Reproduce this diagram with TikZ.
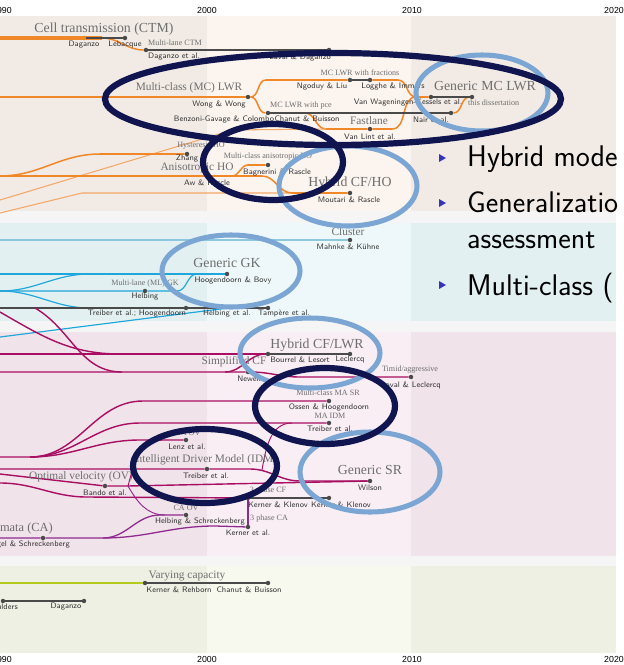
\documentclass[tikz,border=0pt]{standalone}
\usepackage{fontspec}
\newfontfamily\catfont{Liberation Serif}
\newfontfamily\yearfont{Liberation Sans}
\usetikzlibrary{positioning}
\definecolor{beigeD}{HTML}{F2EBE5}
\definecolor{beigeL}{HTML}{FBF4EF}
\definecolor{blueD}{HTML}{E3F0F2}
\definecolor{blueL}{HTML}{EEF8FA}
\definecolor{pinkD}{HTML}{F0E3EA}
\definecolor{pinkL}{HTML}{F8EEF4}
\definecolor{greenD}{HTML}{EFF0E4}
\definecolor{greenL}{HTML}{F8F9EE}
\definecolor{gapgray}{HTML}{F5F5F5}
\definecolor{lwrorange}{HTML}{F0882A}
\definecolor{lwrpale}{HTML}{F3A868}
\definecolor{gkcyan}{HTML}{1FA6DA}
\definecolor{clusterblue}{HTML}{8CC8DF}
\definecolor{cfmagenta}{HTML}{A80F62}
\definecolor{capurple}{HTML}{8E2A8E}
\definecolor{capgreen}{HTML}{B5CB1C}
\definecolor{dotgray}{HTML}{4A4A4A}
\definecolor{whogray}{HTML}{333333}
\definecolor{modelgray}{HTML}{6E6E6E}
\definecolor{ringlight}{HTML}{7BA5D2}
\definecolor{ringnavy}{HTML}{10154F}
\definecolor{bulletblue}{HTML}{3535B5}

\begin{document}
\begin{tikzpicture}[x=0.03cm,y=-0.03cm,
    dot/.style={circle,fill=dotgray,inner sep=0pt,minimum size=3.8pt},
    who/.style={font=\sffamily\fontsize{6.8}{7}\selectfont,text=whogray,inner sep=0pt},
    model/.style={font=\catfont\fontsize{9.7}{11}\selectfont,text=modelgray,inner sep=0pt},
    keymodel/.style={model,font=\catfont\fontsize{11.8}{13}\selectfont},
    variant/.style={font=\catfont\fontsize{6.9}{8}\selectfont,text=modelgray,inner sep=0pt},
    year/.style={font=\yearfont\fontsize{7.5}{8}\selectfont,inner sep=0pt},
    slide/.style={font=\sffamily\fontsize{25.5}{30}\selectfont,inner sep=0pt,anchor=base west},
    lwr/.style={draw=lwrorange,line width=1.3pt},
    lwrthin/.style={draw=lwrpale,line width=0.9pt},
    gk/.style={draw=gkcyan,line width=1pt},
    cluster/.style={draw=clusterblue,line width=1.1pt},
    cf/.style={draw=cfmagenta,line width=1.2pt},
    ca/.style={draw=capurple,line width=1.1pt},
    capline/.style={draw=capgreen,line width=1.3pt},
    pub/.style={draw=dotgray,line width=1.2pt},
    ringL/.style={draw=ringlight,line width=4.3pt},
    ringD/.style={draw=ringnavy,line width=5.3pt}]

  \useasboundingbox (0,0) rectangle (624,665);
  \clip (0,0) rectangle (624,665);

  \fill[gapgray] (0,16) rectangle (616,653);
  \foreach \ya/\yb/\dk/\lt in {16/211/beigeD/beigeL,223/321/blueD/blueL,332/556/pinkD/pinkL,566/653/greenD/greenL} {
    \fill[\dk] (0,\ya) rectangle (207,\yb);
    \fill[\lt] (207,\ya) rectangle (411,\yb);
    \fill[\dk] (411,\ya) rectangle (616,\yb);
  }
  \foreach \yr/\xx in {1990/2,2000/207,2010/412,2020/614} {
    \node[year] (top\yr) at (\xx,10) {\yr};
    \node[year] (bot\yr) at (\xx,659) {\yr};
  }

  \coordinate (ctmL) at (0,38);
  \coordinate (ctmK) at (102,38);
  \node[dot] (daganzo) at (84,38) {};
  \node[dot] (lebacque) at (125,38) {};
  \node[dot] (daganzoEA) at (146,50) {};
  \node[dot] (lavalD) at (329,50) {};
  \draw[lwr,line width=3.4pt] (ctmL) -- (ctmK);
  \draw[lwr] (ctmK) to[out=0,in=180] (daganzoEA);
  \draw[pub] (daganzo) -- (lebacque);
  \draw[pub] (daganzoEA) -- (lavalD);

  \coordinate (mcL) at (0,97);
  \coordinate (fracA) at (266,80);
  \coordinate (fracB) at (398,80);
  \coordinate (mcJ) at (416,97);
  \coordinate (pceB) at (305,113);
  \coordinate (fastA) at (326,129);
  \coordinate (fastB) at (392,129);
  \coordinate (fsL) at (0,200);
  \coordinate (fsK) at (232,130);
  \node[dot] (wong) at (248,97) {};
  \node[dot] (ngoduy) at (350,80) {};
  \node[dot] (logghe) at (370,80) {};
  \node[dot] (vwk) at (431,97) {};
  \node[dot] (thesis) at (472,97) {};
  \node[dot] (benzoni) at (268,113) {};
  \node[dot] (nair) at (451,113) {};
  \node[dot] (vanlint) at (370,129) {};
  \draw[lwr] (mcL) -- (wong);
  \draw[lwr] (wong) to[out=0,in=180] (fracA) -- (ngoduy);
  \draw[lwr] (logghe) -- (fracB) to[out=0,in=180] (mcJ) -- (vwk);
  \draw[lwr] (wong) to[out=0,in=180] (benzoni);
  \draw[lwr] (nair) to[out=0,in=180] (thesis);
  \draw[lwr] (pceB) to[out=0,in=180] (fastA) -- (vanlint) -- (fastB) to[out=0,in=180] (mcJ);
  \draw[lwrthin] (fsL) -- (fsK) -- (fastA);
  \draw[pub] (ngoduy) -- (logghe);
  \draw[pub] (benzoni) -- (nair);
  \draw[pub] (vwk) -- (thesis);

  \coordinate (hoL) at (0,176);
  \coordinate (hoK) at (232,176);
  \coordinate (hoM) at (262,176);
  \coordinate (hysK) at (100,154);
  \coordinate (anisoK) at (248,165);
  \coordinate (moutL) at (0,213);
  \coordinate (moutK) at (82,193);
  \coordinate (moutJ) at (292,193);
  \node[dot] (zhang) at (187,154) {};
  \node[dot] (bagnerini) at (268,165) {};
  \node[dot] (moutari) at (350,193) {};
  \draw[lwrthin] (moutL) -- (moutK) -- (moutJ);
  \draw[lwr] (hoL) -- (hoM) to[out=0,in=180] (moutJ) -- (moutari);
  \draw[lwr] (hoK) to[out=0,in=180] (anisoK) -- (bagnerini);
  \draw[lwr] (hoL) to[out=0,in=180] (hysK) -- (zhang);

  \coordinate (clL) at (0,240);
  \coordinate (topL) at (0,274);
  \coordinate (gkL) at (0,291);
  \coordinate (gkU) at (90,274);
  \coordinate (gkD) at (90,308);
  \coordinate (mlK) at (177,291);
  \coordinate (mlJ) at (197,274);
  \coordinate (treibL) at (0,308);
  \coordinate (helbingEA) at (228,308);
  \coordinate (hetL) at (0,337);
  \node[dot] (mahnke) at (350,240) {};
  \node[dot] (hoogBovy) at (227,274) {};
  \node[dot] (helbing) at (145,291) {};
  \node[dot] (treiberH) at (186,308) {};
  \node[dot] (tampere) at (268,308) {};
  \draw[cluster] (clL) -- (mahnke);
  \draw[gk] (topL) -- (hoogBovy);
  \draw[gk] (gkL) to[out=0,in=180] (gkU);
  \draw[gk] (gkL) -- (helbing) -- (mlK) to[out=0,in=180] (mlJ);
  \draw[gk] (gkL) to[out=0,in=180] (gkD);
  \draw[gk] (hetL) -- (helbingEA);
  \draw[pub] (treibL) -- (treiberH) -- (tampere);

  \coordinate (sfL) at (0,312);
  \coordinate (sfK) at (120,354);
  \coordinate (scL) at (35,308);
  \coordinate (scK) at (122,372);
  \coordinate (lwrL) at (0,354);
  \coordinate (newL) at (0,372);
  \coordinate (newK) at (225,372);
  \coordinate (timidK) at (300,377);
  \node[dot] (bourrel) at (268,354) {};
  \node[dot] (leclercq) at (350,354) {};
  \node[dot] (newell) at (248,372) {};
  \node[dot] (lavalL) at (411,377) {};
  \draw[cf] (sfL) to[out=-30,in=180] (sfK);
  \draw[cf] (scL) to[out=-30,in=180] (scK);
  \draw[cf] (lwrL) -- (bourrel);
  \draw[cf] (newL) -- (newell) to[out=0,in=180] (timidK) -- (lavalL);
  \draw[cf] (newK) to[out=0,in=180] (bourrel);
  \draw[pub] (bourrel) -- (leclercq);

  \coordinate (cfL) at (0,457);
  \coordinate (cfHub) at (30,457);
  \coordinate (srK) at (143,401);
  \coordinate (maidmK) at (140,423);
  \coordinate (maidmJ) at (292,423);
  \coordinate (maovK) at (140,440);
  \coordinate (maovJ) at (162,440);
  \node[dot] (ossen) at (329,401) {};
  \node[dot] (treiberMA) at (329,423) {};
  \node[dot] (lenz) at (186,440) {};
  \draw[cf] (cfL) -- (cfHub) to[out=0,in=180] (srK) -- (ossen);
  \draw[cf] (cfHub) to[out=0,in=180] (maidmK) -- (treiberMA);
  \draw[cf] (cfHub) to[out=0,in=180] (maovK) -- (lenz);

  \coordinate (idmL) at (0,469);
  \coordinate (idmK) at (250,469);
  \coordinate (idmB) at (262,470);
  \coordinate (srJ) at (300,481);
  \coordinate (ovL) at (0,474);
  \coordinate (ovK) at (128,486);
  \coordinate (tpL) at (0,483);
  \coordinate (tpK) at (87,497);
  \node[dot] (treiberIDM) at (207,469) {};
  \node[dot] (wilson) at (370,481) {};
  \node[dot] (bando) at (105,486) {};
  \node[dot] (kernerK) at (248,498) {};
  \node[dot] (kernerK2) at (329,498) {};
  \node[dot] (kernerEA) at (248,527) {};
  \draw[cf] (idmL) -- (treiberIDM) -- (idmK) to[out=0,in=180] (srJ) -- (wilson);
  \draw[cf,line width=0.8pt] (idmB) to[out=80,in=180] (maidmJ);
  \draw[cf] (ovL) -- (bando) -- (ovK) -- (wilson);
  \draw[cf,line width=0.8pt] (ovK) to[out=75,in=180] (maovJ);
  \draw[cf] (tpL) to[out=0,in=180] (tpK) -- (kernerK);
  \draw[ca] (kernerK) -- (kernerEA);
  \draw[pub] (kernerK) -- (kernerK2);

  \coordinate (caL) at (0,538);
  \coordinate (caK) at (103,538);
  \coordinate (caovK) at (160,515);
  \coordinate (caovJ) at (165,515);
  \coordinate (tpcaK) at (215,526);
  \node[dot] (nagel) at (43,538) {};
  \node[dot] (helbingS) at (186,515) {};
  \draw[ca] (caL) -- (nagel) -- (caK) to[out=0,in=180] (caovK) -- (helbingS);
  \draw[ca] (caK) to[out=0,in=180] (tpcaK) -- (kernerEA);
  \draw[ca,line width=0.8pt] (ovK) to[out=-60,in=180] (caovJ);

  \coordinate (vcL) at (0,583);
  \node[dot] (kernerR) at (145,583) {};
  \node[dot] (chanutB) at (268,583) {};
  \node[dot] (smulders) at (3,601) {};
  \node[dot] (daganzoC) at (84,601) {};
  \draw[capline] (vcL) -- (kernerR);
  \draw[pub] (kernerR) -- (chanutB);
  \draw[pub] (smulders) -- (daganzoC);

  \node[keymodel] (ctmM) at (104,29) {Cell transmission (CTM)};
  \node[who] (daganzoN) at (84,45) {Daganzo};
  \node[who] (lebacqueN) at (125,45) {Lebacque};
  \node[variant,anchor=west] (mlctmV) at (148,43) {Multi-lane CTM};
  \node[who,anchor=west] (daganzoEAN) at (148,57) {Daganzo et al.};
  \node[who] (lavalDN) at (300,57) {Laval \& Daganzo};
  \node[model] (mclwrM) at (189,88) {Multi-class (MC) LWR};
  \node[who] (wongN) at (219,104) {Wong \& Wong};
  \node[variant] (fracV) at (360,73) {MC LWR with fractions};
  \node[who] (ngoduyN) at (322,86) {Ngoduy \& Liu};
  \node[who] (loggheN) at (393,86) {Logghe \& Immers};
  \node[who] (vwkN) at (408,103) {Van Wageningen-Kessels et al.};
  \node[variant,anchor=west] (thesisV) at (468,103) {this dissertation};
  \node[keymodel] (gmcM) at (485,86) {Generic MC LWR};
  \node[variant] (pceV) at (301,106) {MC LWR with pce};
  \node[who] (benzoniN) at (224,119) {Benzoni-Gavage \& Colombo};
  \node[who] (chanutN) at (307,119) {Chanut \& Buisson};
  \node[who] (nairN) at (431,120) {Nair et al.};
  \node[model] (fastM) at (369,121) {Fastlane};
  \node[who] (vanlintN) at (370,137) {Van Lint et al.};
  \node[variant] (hysV) at (201,146) {Hysteresis HO};
  \node[who] (zhangN) at (187,159) {Zhang};
  \node[model] (anisoM) at (197,168) {Anisotropic HO};
  \node[variant] (mcahoV) at (268,157) {Multi-class anisotropic HO};
  \node[who] (bagneriniN) at (277,172) {Bagnerini \& Rascle};
  \node[who] (awN) at (207,183) {Aw \& Rascle};
  \node[keymodel] (hcfhoM) at (350,183) {Hybrid CF/HO};
  \node[who] (moutariN) at (349,200) {Moutari \& Rascle};
  \node[model] (clusterM) at (348,232) {Cluster};
  \node[who] (mahnkeN) at (348,247) {Mahnke \& Kühne};
  \node[keymodel] (ggkM) at (227,263) {Generic GK};
  \node[who] (hoogBovyN) at (233,280) {Hoogendoorn \& Bovy};
  \node[variant] (mlgkV) at (145,284) {Multi-lane (ML) GK};
  \node[who] (helbingN) at (145,297) {Helbing};
  \node[who] (treiberHN) at (137,314) {Treiber et al.; Hoogendoorn};
  \node[who] (helbingEAN) at (227,314) {Helbing et al.};
  \node[who] (tampereN) at (284,314) {Tampère et al.};
  \node[keymodel] (hcflwrM) at (317,345) {Hybrid CF/LWR};
  \node[who] (bourrelN) at (300,360) {Bourrel \& Lesort};
  \node[who] (leclercqN) at (350,360) {Leclercq};
  \node[model] (simpM) at (234,362) {Simplified CF};
  \node[who] (newellN) at (249,379) {Newell};
  \node[variant] (timidV) at (410,370) {Timid/aggressive};
  \node[who] (lavalLN) at (411,385) {Laval \& Leclercq};
  \node[variant] (masrV) at (328,393) {Multi-class MA SR};
  \node[who] (ossenN) at (329,407) {Ossen \& Hoogendoorn};
  \node[variant] (maidmV) at (330,416) {MA IDM};
  \node[who] (treiberMAN) at (330,429) {Treiber et al.};
  \node[variant] (maovV) at (187,433) {MA OV};
  \node[who] (lenzN) at (187,447) {Lenz et al.};
  \node[model] (idmM) at (205,460) {Intelligent Driver Model (IDM)};
  \node[who] (treiberIDMN) at (206,476) {Treiber et al.};
  \node[model] (ovM) at (81,477) {Optimal velocity (OV)};
  \node[who] (bandoN) at (105,493) {Bando et al.};
  \node[keymodel] (gsrM) at (370,470) {Generic SR};
  \node[who] (wilsonN) at (370,488) {Wilson};
  \node[variant] (tpcfV) at (268,491) {3 phase CF};
  \node[who] (kernerKN) at (278,505) {Kerner \& Klenov};
  \node[who] (kernerK2N) at (341,505) {Kerner \& Klenov};
  \node[variant,anchor=west] (tpcaV) at (250,519) {3 phase CA};
  \node[who] (kernerEAN) at (248,533) {Kerner et al.};
  \node[variant] (caovV) at (186,508) {CA OV};
  \node[who] (helbingSN) at (200,521) {Helbing \& Schreckenberg};
  \node[model,anchor=east,font=\catfont\fontsize{10.6}{12}\selectfont] (caM) at (53,529) {Cellular automata (CA)};
  \node[who,anchor=east] (nagelN) at (70,544) {Nagel \& Schreckenberg};
  \node[model] (vcM) at (187,576) {Varying capacity};
  \node[who] (kernerRN) at (179,590) {Kerner \& Rehborn};
  \node[who] (chanutBN) at (249,590) {Chanut \& Buisson};
  \node[who,anchor=east] (smuldersN) at (18,607) {Smulders};
  \node[who] (daganzoCN) at (66,607) {Daganzo};

  \draw[ringL] (482,93) ellipse [x radius=66,y radius=38];
  \draw[ringL] (348,186) ellipse [x radius=69,y radius=40];
  \draw[ringL] (231,271) ellipse [x radius=69,y radius=36];
  \draw[ringL] (310,353) ellipse [x radius=70,y radius=35];
  \draw[ringL] (370,472) ellipse [x radius=70,y radius=40];
  \draw[ringD] (333,99) ellipse [x radius=228,y radius=46];
  \draw[ringD] (273,162) ellipse [x radius=70,y radius=38];
  \draw[ringD] (325,406) ellipse [x radius=70,y radius=38];
  \draw[ringD] (205,466) ellipse [x radius=72,y radius=37];

  \foreach \yb in {158,203,285}
    \fill[bulletblue] (439,\yb-4) -- (446,\yb) -- (439,\yb+4) -- cycle;
  \node[slide] (itemA) at (467,166) {Hybrid mode};
  \node[slide] (itemB) at (467,212) {Generalizatio};
  \node[slide] (itemC) at (467,248) {assessment};
  \node[slide] (itemD) at (467,295) {Multi-class (};
\end{tikzpicture}
\end{document}
